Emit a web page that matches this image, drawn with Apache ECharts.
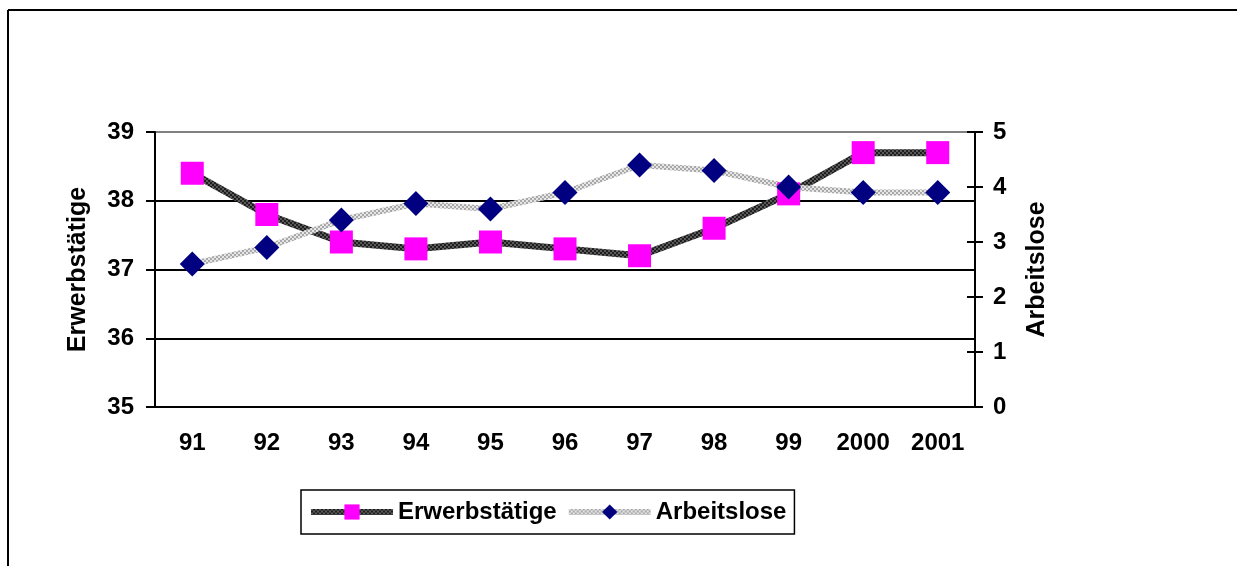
<!DOCTYPE html>
<html>
<head>
<meta charset="utf-8">
<script src="https://cdn.jsdelivr.net/npm/echarts@6/dist/echarts.min.js"></script>
<style>
  html, body { margin: 0; padding: 0; background: #fff; }
  #chart { width: 1237px; height: 566px; }
</style>
</head>
<body>
<div id="chart"></div>
<script>
// Jahre (Kategorien)
var years = ['91', '92', '93', '94', '95', '96', '97', '98', '99', '2000', '2001'];
// Erwerbstätige in Mio (linke Achse)
var erwerbstaetige = [38.4, 37.8, 37.4, 37.3, 37.4, 37.3, 37.2, 37.6, 38.1, 38.7, 38.7];
// Arbeitslose in Mio (rechte Achse)
var arbeitslose = [2.6, 2.9, 3.4, 3.7, 3.6, 3.9, 4.4, 4.3, 4.0, 3.9, 3.9];

// kleines Raster-Muster für die Linien (wie im Excel-Diagramm)
function makePattern(c1, c2) {
  var cv = document.createElement('canvas');
  cv.width = 4; cv.height = 4;
  var ctx = cv.getContext('2d');
  ctx.fillStyle = c1;
  ctx.fillRect(0, 0, 4, 4);
  ctx.fillStyle = c2;
  ctx.fillRect(0, 0, 2, 2);
  ctx.fillRect(2, 2, 2, 2);
  return { image: cv, repeat: 'repeat' };
}

var font = 'Liberation Sans, Arial, sans-serif';
var darkLine = makePattern('#5a5a5a', '#1e1e1e');
var lightLine = makePattern('#e6e6e6', '#a8a8a8');
var myChart = echarts.init(document.getElementById('chart'));

var option = {
  animation: false,
  textStyle: { fontFamily: font },
  grid: { left: 155, right: 262, top: 132, bottom: 159 },
  graphic: [
    { type: 'line', shape: { x1: 8, y1: 10, x2: 1237, y2: 10 }, style: { stroke: '#000', lineWidth: 2 } },
    { type: 'line', shape: { x1: 8, y1: 10, x2: 8, y2: 566 }, style: { stroke: '#000', lineWidth: 2 } }
  ],
  legend: {
    left: 301,
    top: 490,
    padding: [10, 8, 10, 7],
    borderColor: '#000',
    borderWidth: 1.5,
    itemWidth: 82,
    itemHeight: 19,
    itemGap: 9,
    textStyle: { fontSize: 24, fontWeight: 'bold', color: '#000', fontFamily: font },
    data: [
      { name: 'Erwerbstätige', lineStyle: { width: 6, color: darkLine } },
      { name: 'Arbeitslose', lineStyle: { width: 6, color: lightLine } }
    ]
  },
  xAxis: {
    type: 'category',
    data: years,
    axisLine: { lineStyle: { color: '#000', width: 2 } },
    axisTick: { length: 8, lineStyle: { color: '#000', width: 2 } },
    axisLabel: { margin: 24, fontSize: 24, fontWeight: 'bold', color: '#000' }
  },
  yAxis: [
    {
      type: 'value',
      min: 35, max: 39, interval: 1,
      position: 'left',
      name: 'Erwerbstätige',
      nameLocation: 'middle',
      nameRotate: 90,
      nameGap: 64,
      nameTextStyle: { fontSize: 25, fontWeight: 'bold', color: '#000' },
      axisLine: { show: true, lineStyle: { color: '#000', width: 2 } },
      axisTick: { show: true, length: 9, lineStyle: { color: '#000', width: 2 } },
      axisLabel: { margin: 21, fontSize: 24, fontWeight: 'bold', color: '#000' },
      splitLine: { show: true, lineStyle: { color: ['#000', '#000', '#000', '#000', '#808080'], width: 2 } }
    },
    {
      type: 'value',
      min: 0, max: 5, interval: 1,
      position: 'right',
      name: 'Arbeitslose',
      nameLocation: 'middle',
      nameRotate: 90,
      nameGap: 50,
      nameTextStyle: { fontSize: 25, fontWeight: 'bold', color: '#000' },
      axisLine: { show: true, lineStyle: { color: '#000', width: 2 } },
      axisTick: { show: true, length: 8, lineStyle: { color: '#000', width: 2 } },
      axisLabel: { margin: 18, fontSize: 24, fontWeight: 'bold', color: '#000' },
      splitLine: { show: false }
    },
    {
      // nur für die nach innen zeigenden Striche der rechten Achse
      type: 'value',
      min: 0, max: 5, interval: 1,
      position: 'right',
      axisLine: { show: false },
      axisTick: { show: true, inside: true, length: 8, lineStyle: { color: '#000', width: 2 } },
      axisLabel: { show: false },
      splitLine: { show: false }
    }
  ],
  series: [
    {
      name: 'Erwerbstätige',
      type: 'line',
      yAxisIndex: 0,
      data: erwerbstaetige,
      symbol: 'rect',
      symbolSize: 23,
      itemStyle: { color: '#ff00ff', borderWidth: 0 },
      lineStyle: { width: 7, color: darkLine }
    },
    {
      name: 'Arbeitslose',
      type: 'line',
      yAxisIndex: 1,
      data: arbeitslose,
      symbol: 'diamond',
      symbolSize: 25,
      itemStyle: { color: '#000080', borderWidth: 0 },
      lineStyle: { width: 6, color: lightLine }
    }
  ]
};

myChart.setOption(option);
</script>
</body>
</html>
